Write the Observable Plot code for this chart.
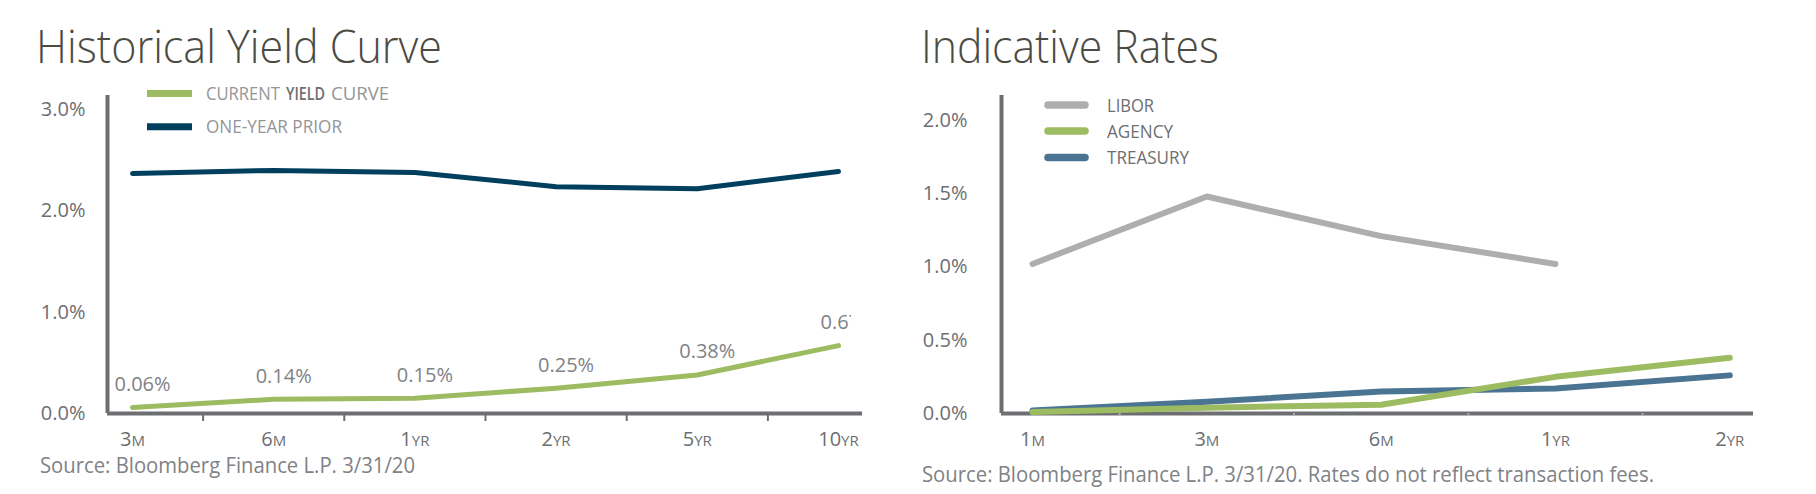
<!DOCTYPE html>
<html>
<head>
<meta charset="utf-8">
<script src="https://cdn.jsdelivr.net/npm/d3@7"></script>
<script src="https://cdn.jsdelivr.net/npm/@observablehq/plot@0.6"></script>
<style>
  html, body { margin: 0; padding: 0; background: #ffffff; }
  #wrap { position: relative; width: 1816px; height: 494px; overflow: hidden; background: #ffffff; font-family: 'Open Sans', sans-serif; }
  #wrap svg { position: absolute; top: 0; }
</style>
</head>
<body>
<div id="wrap"></div>
<script>
// ---------------- data ----------------
const leftTerms = ["3M", "6M", "1YR", "2YR", "5YR", "10YR"];
const currentYield = [0.06, 0.14, 0.15, 0.25, 0.38, 0.67];
const priorYield = [2.37, 2.40, 2.38, 2.24, 2.22, 2.39];
const leftYTicks = [0, 1, 2, 3];

const rightTerms = ["1M", "3M", "6M", "1YR", "2YR"];
const libor = [1.02, 1.48, 1.21, 1.02];
const agency = [0.01, 0.04, 0.06, 0.25, 0.38];
const treasury = [0.02, 0.08, 0.15, 0.17, 0.26];
const rightYTicks = [0, 0.5, 1, 1.5, 2];

const leftTitle = "Historical Yield Curve";
const rightTitle = "Indicative Rates";
const leftSource = "Source: Bloomberg Finance L.P. 3/31/20";
const rightSource = "Source: Bloomberg Finance L.P. 3/31/20. Rates do not reflect transaction fees.";

// ---------------- styles ----------------
const green = "#9dbb61";
const navy = "#003f5e";
const grayLine = "#adaeb0";
const steel = "#4a7491";
const axisGray = "#6d6e71";
const labelGray = "#808285";
const font = "'Open Sans', sans-serif";

const toRows = arr => arr.map((v, i) => ({i, v}));
const pct1 = d => d.toFixed(1) + "%";
const bounds = n => d3.range(n - 1).map(i => i + 0.5);

const leftXDomain = [-0.177, 5.17];
const rightXDomain = [-0.178, 4.136];

const wrap = document.getElementById("wrap");

function smallCaps(svg) {
  d3.select(svg).selectAll('g[aria-label="x-axis tick label"] text').each(function () {
    const s = this.textContent;
    const m = s.match(/^(\d+)([A-Z]+)$/);
    if (!m) return;
    const t = d3.select(this);
    t.text(null);
    t.append("tspan").text(m[1]);
    t.append("tspan").attr("font-size", 15).text(m[2]);
  });
}

// ---------------- left chart ----------------
const currentRows = toRows(currentYield);
const priorRows = toRows(priorYield);

const left = Plot.plot({
  width: 900, height: 494,
  marginLeft: 107, marginRight: 38, marginTop: 95, marginBottom: 81,
  x: {type: "linear", domain: leftXDomain, label: null},
  y: {domain: [0, 3.14], label: null},
  style: {fontFamily: font, color: axisGray, background: "transparent", overflow: "visible"},
  marks: [
    Plot.axisY({ticks: leftYTicks, tickFormat: pct1, tickSize: 0, tickPadding: 22, fontSize: 20, label: null}),
    Plot.axisX({ticks: bounds(leftTerms.length), tickFormat: () => "", tickSize: 8, strokeWidth: 2, label: null}),
    Plot.axisX({ticks: d3.range(leftTerms.length), tickFormat: i => leftTerms[i], tickSize: 0, tickPadding: 18, fontSize: 20, label: null}),
    Plot.ruleX([leftXDomain[0]], {stroke: axisGray, strokeWidth: 4}),
    Plot.ruleY([0], {stroke: axisGray, strokeWidth: 4}),
    Plot.line(priorRows, {x: "i", y: "v", stroke: navy, strokeWidth: 5, strokeLinecap: "round", strokeLinejoin: "round"}),
    Plot.line(currentRows, {x: "i", y: "v", stroke: green, strokeWidth: 5, strokeLinecap: "round", strokeLinejoin: "round"}),
    Plot.text(currentRows, {x: "i", y: "v", text: d => d.v.toFixed(2) + "%", dx: 10, dy: -23, fontSize: 20, fill: labelGray})
  ]
});
left.style.left = "0px";
wrap.appendChild(left);
smallCaps(left);
{
  // the reference clips the last value label at the chart's right edge
  const s = d3.select(left);
  s.append("defs").append("clipPath").attr("id", "clipLeft")
    .append("rect").attr("x", 0).attr("y", 0).attr("width", 851).attr("height", 494);
  const labels = s.selectAll("text").filter(function () { return /^\d\.\d\d%$/.test(this.textContent); });
  const holder = labels.node() ? labels.node().parentNode : null;
  if (holder) {
    const clipG = s.append("g").attr("clip-path", "url(#clipLeft)");
    clipG.node().appendChild(holder);
  }
}

// ---------------- right chart ----------------
const right = Plot.plot({
  width: 936, height: 494,
  marginLeft: 121, marginRight: 63, marginTop: 95, marginBottom: 81,
  x: {type: "linear", domain: rightXDomain, label: null},
  y: {domain: [0, 2.169], label: null},
  style: {fontFamily: font, color: axisGray, background: "transparent", overflow: "visible"},
  marks: [
    Plot.axisY({ticks: rightYTicks, tickFormat: pct1, tickSize: 0, tickPadding: 34, fontSize: 20, label: null}),
    Plot.axisX({ticks: d3.range(rightTerms.length), tickFormat: i => rightTerms[i], tickSize: 0, tickPadding: 18, fontSize: 20, label: null}),
    Plot.ruleX([rightXDomain[0]], {stroke: axisGray, strokeWidth: 4}),
    Plot.ruleY([0], {stroke: axisGray, strokeWidth: 4}),
    Plot.axisX({ticks: bounds(rightTerms.length), tickFormat: () => "", tickSize: 2, strokeWidth: 2, stroke: "#a7a8aa", label: null}),
    Plot.line(toRows(libor), {x: "i", y: "v", stroke: grayLine, strokeWidth: 6, strokeLinecap: "round", strokeLinejoin: "round"}),
    Plot.line(toRows(treasury), {x: "i", y: "v", stroke: steel, strokeWidth: 6, strokeLinecap: "round", strokeLinejoin: "round"}),
    Plot.line(toRows(agency), {x: "i", y: "v", stroke: green, strokeWidth: 6, strokeLinecap: "round", strokeLinejoin: "round"})
  ]
});
right.style.left = "880px";
wrap.appendChild(right);
smallCaps(right);

// ---------------- titles, legends, sources ----------------
const ov = d3.select(wrap).append("svg")
  .attr("width", 1816).attr("height", 494)
  .style("left", "0px").style("font-family", font);

function txt(x, y, s, size, fill, width, weight) {
  const t = ov.append("text").attr("x", x).attr("y", y)
    .attr("font-size", size).attr("fill", fill).attr("font-weight", weight || 400).text(s);
  if (width) t.attr("textLength", width).attr("lengthAdjust", "spacingAndGlyphs");
  return t;
}

txt(36, 63, leftTitle, 46, "#4b4b44", 406, 300);
txt(921, 63, rightTitle, 46, "#4b4b44", 298, 300);

// left legend (each word group is its own text; "YIELD" is emphasised as in the reference)
const leftLegend = [
  {parts: [
    {s: "CURRENT", x: 206, w: 74, fill: "#939598", weight: 400},
    {s: "YIELD", x: 286, w: 39, fill: "#6d6e71", weight: 600},
    {s: "CURVE", x: 331, w: 58, fill: "#939598", weight: 400}
  ], color: green, y: 93.5},
  {parts: [
    {s: "ONE-YEAR PRIOR", x: 206, w: 136, fill: "#939598", weight: 400}
  ], color: navy, y: 126.7}
];
leftLegend.forEach(d => {
  ov.append("line").attr("x1", 147).attr("x2", 192).attr("y1", d.y).attr("y2", d.y)
    .attr("stroke", d.color).attr("stroke-width", 7);
  d.parts.forEach(p => txt(p.x, d.y + 6.5, p.s, 18, p.fill, p.w, p.weight));
});

// right legend
const rightLegend = [
  {label: "LIBOR", color: grayLine, y: 105, w: 47},
  {label: "AGENCY", color: green, y: 131, w: 66},
  {label: "TREASURY", color: steel, y: 157.5, w: 82}
];
rightLegend.forEach(d => {
  ov.append("line").attr("x1", 1048).attr("x2", 1085).attr("y1", d.y).attr("y2", d.y)
    .attr("stroke", d.color).attr("stroke-width", 7.5).attr("stroke-linecap", "round");
  txt(1107, d.y + 6.5, d.label, 18.5, "#6d6e71", d.w);
});

txt(40, 473, leftSource, 22, labelGray, 375);
txt(922, 482, rightSource, 22, labelGray, 732);
</script>
</body>
</html>
